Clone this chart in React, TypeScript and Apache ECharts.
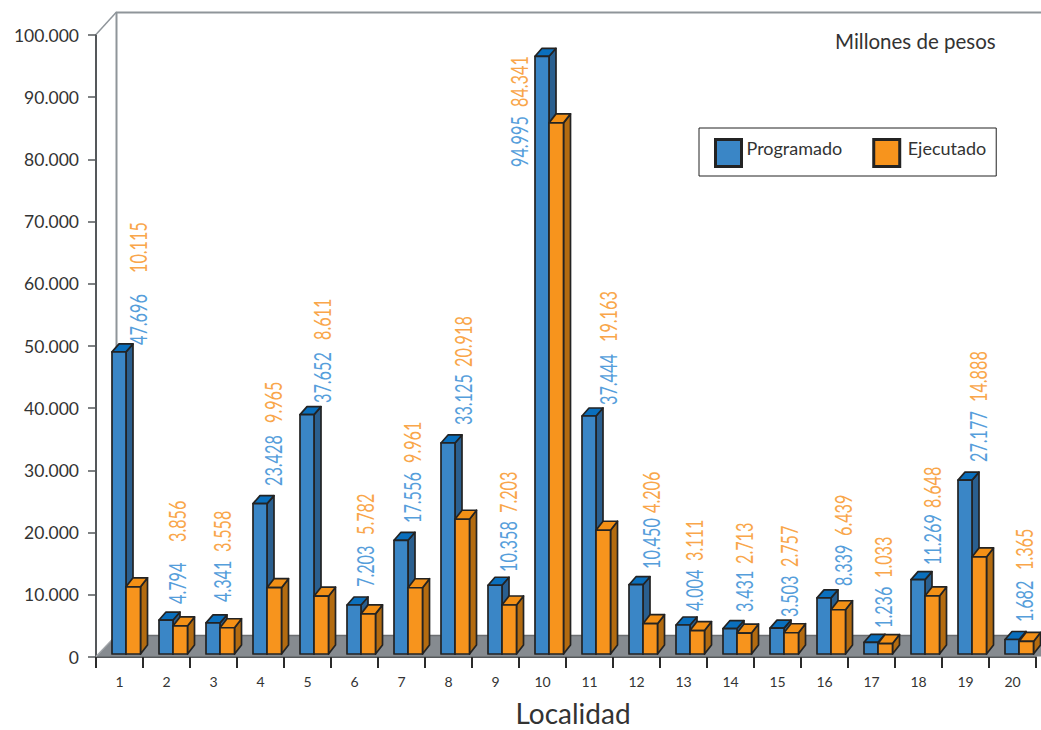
import React, { useEffect, useRef } from "react";
import * as echarts from "echarts";

const categories = ["1","2","3","4","5","6","7","8","9","10","11","12","13","14","15","16","17","18","19","20"];
const programado = [47696,4794,4341,23428,37652,7203,17556,33125,10358,94995,37444,10450,4004,3431,3503,8339,1236,11269,27177,1682];
const ejecutado = [10115,3856,3558,9965,8611,5782,9961,20918,7203,84341,19163,4206,3111,2713,2757,6439,1033,8648,14888,1365];

// Hand placement of the printed value labels (page pixels), kept apart from the data.
const labelX = [138,177,222,273,322,365,412,463,508,519,608,651,694,744,789,843,883,932,978,1024];
const programadoLabelY = [345,604,602,486,403,587,523,425,572,167,405,569,611,612,617,586,628,565,462,622];
const ejecutadoLabelY = [273,542,552,423,340,535,463,367,513,107,342,513,561,564,567,536,578,508,402,570];

const fmt = (v: number) => {
  const s = String(v);
  return s.length > 3 ? s.slice(0, -3) + "." + s.slice(-3) : s;
};

const STROKE = "#232323";
// The bars in the source run on a slightly different scale from the printed ticks.
const BAR_AXIS_MIN = -1120;
const BAR_AXIS_MAX = 98400;
const BAR_BASE = -640;

function barRenderer(
  values: number[],
  labelY: number[],
  startOff: number,
  width: number,
  depthX: number,
  depthY: number,
  front: string,
  top: string,
  side: string,
  textColor: string
) {
  return (_params: any, api: any) => {
    const i = api.value(0);
    const v = api.value(1);
    const [cx, yTop] = api.coord([i, v]);
    const yBase = api.coord([i, BAR_BASE])[1];
    const x0 = cx + startOff;
    const x1 = x0 + width;
    const style = { stroke: STROKE, lineWidth: 1.7, lineJoin: "round" };
    return {
      type: "group",
      children: [
        {
          type: "polygon",
          shape: { points: [[x1, yTop], [x1 + depthX, yTop - depthY], [x1 + depthX, yBase - depthY], [x1, yBase]] },
          style: { ...style, fill: side },
        },
        {
          type: "polygon",
          shape: { points: [[x0, yTop], [x0 + depthX, yTop - depthY], [x1 + depthX, yTop - depthY], [x1, yTop]] },
          style: { ...style, fill: top },
        },
        {
          type: "rect",
          shape: { x: x0, y: yTop, width, height: yBase - yTop },
          style: { ...style, fill: front },
        },
        {
          type: "text",
          x: labelX[i],
          y: labelY[i],
          rotation: Math.PI / 2,
          scaleX: 0.72,
          silent: true,
          style: {
            text: fmt(values[i]),
            x: 0,
            y: 0,
            align: "left",
            verticalAlign: "middle",
            fill: textColor,
            font: '22.5px Lato, sans-serif',
          },
        },
      ],
    };
  };
}

export default function App() {
  const ref = useRef<HTMLDivElement>(null);
  useEffect(() => {
    document.body.style.margin = "0";
    const chart = echarts.init(ref.current!, null, { renderer: "svg" });
    const legendToken = { fontFamily: "Lato, sans-serif", fontSize: 18, color: "#333333" };
    chart.setOption({
      animation: false,
      backgroundColor: "#ffffff",
      textStyle: { fontFamily: "Lato, sans-serif" },
      grid: { left: 96, right: 5, top: 35, bottom: 73, outerBoundsMode: "none", containLabel: false },
      legend: {
        left: 699,
        top: 128,
        orient: "horizontal",
        data: ["Programado", "Ejecutado"],
        padding: [10, 10, 8, 15],
        borderColor: "#222222",
        borderWidth: 1,
        itemWidth: 26,
        itemHeight: 27,
        itemGap: 30,
        icon: "rect",
        itemStyle: { borderColor: STROKE, borderWidth: 3 },
        formatter: (name: string) => (name === "Ejecutado" ? `{e|${name}}` : `{p|${name}}`),
        textStyle: {
          ...legendToken,
          rich: {
            p: { ...legendToken, padding: [0, 0, 10, 0] },
            e: { ...legendToken, padding: [0, 0, 10, 3] },
          },
        },
      },
      xAxis: {
        type: "category",
        data: categories,
        boundaryGap: true,
        name: "Localidad",
        nameLocation: "middle",
        nameGap: 42,
        nameTextStyle: { fontFamily: "Lato, sans-serif", fontSize: 28, color: "#333333", padding: [0, 0, 0, 14] },
        axisLine: { show: true, onZero: false, lineStyle: { color: "#55585b", width: 2 } },
        axisTick: { show: true, inside: false, interval: 0, alignWithLabel: false, length: 11, lineStyle: { color: "#2b2b2b", width: 2 } },
        axisLabel: { fontFamily: "Lato, sans-serif", fontSize: 14, color: "#333333", margin: 17 },
      },
      yAxis: [
        {
          type: "value",
          min: 0,
          max: 100000,
          interval: 10000,
          axisLine: { show: true, lineStyle: { color: "#55585b", width: 2 } },
          axisTick: { show: true, length: 8, lineStyle: { color: "#55585b", width: 1.5 } },
          splitLine: { show: false },
          axisLabel: {
            fontFamily: "Lato, sans-serif",
            fontSize: 17.5,
            color: "#333333",
            margin: 17,
            formatter: (v: number) => fmt(v),
          },
        },
        { type: "value", show: false, min: BAR_AXIS_MIN, max: BAR_AXIS_MAX, splitLine: { show: false } },
      ],
      graphic: [
        { type: "polygon", z: 1, shape: { points: [[96, 656.5], [116, 635.5], [1041, 635.5], [1041, 656.5]] }, style: { fill: "#868b90" } },
        { type: "line", z: 1, shape: { x1: 116, y1: 635.5, x2: 1041, y2: 635.5 }, style: { stroke: "#6b6e71", lineWidth: 1.5 } },
        { type: "line", z: 1, shape: { x1: 96, y1: 656.5, x2: 116, y2: 635.5 }, style: { stroke: "#a2a6aa", lineWidth: 1.2 } },
        { type: "line", z: 1, shape: { x1: 116.5, y1: 12, x2: 116.5, y2: 636 }, style: { stroke: "#8f959a", lineWidth: 2 } },
        { type: "line", z: 1, shape: { x1: 116, y1: 12.5, x2: 1041, y2: 12.5 }, style: { stroke: "#8f959a", lineWidth: 2 } },
        { type: "line", z: 1, shape: { x1: 96, y1: 34.5, x2: 116.5, y2: 12 }, style: { stroke: "#8f959a", lineWidth: 1.5 } },
        {
          type: "text",
          z: 6,
          x: 835,
          y: 41,
          style: { text: "Millones de pesos", fill: "#333333", font: '20.5px Lato, sans-serif', align: "left", verticalAlign: "middle" },
        },
      ],
      series: [
        {
          name: "Programado",
          type: "custom",
          yAxisIndex: 1,
          z: 5,
          itemStyle: { color: "#3a86c6" },
          encode: { x: 0, y: 1 },
          data: programado.map((v, i) => [i, v]),
          renderItem: barRenderer(programado, programadoLabelY, -7.5, 14, 7, 8, "#3a86c6", "#0a6fbd", "#2a5f8f", "#559edb"),
        },
        {
          name: "Ejecutado",
          type: "custom",
          yAxisIndex: 1,
          z: 6,
          itemStyle: { color: "#f7941d" },
          encode: { x: 0, y: 1 },
          data: ejecutado.map((v, i) => [i, v]),
          renderItem: barRenderer(ejecutado, ejecutadoLabelY, 6.5, 14.5, 7, 9, "#f7941d", "#f39016", "#b36b10", "#f9a64a"),
        },
      ],
    });
    return () => chart.dispose();
  }, []);
  return <div ref={ref} style={{ width: 1041, height: 730 }} />;
}
